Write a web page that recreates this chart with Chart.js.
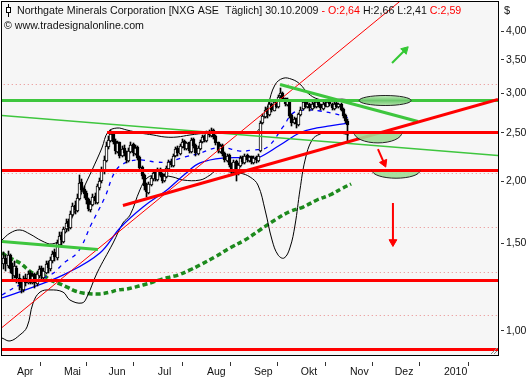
<!DOCTYPE html>
<html><head><meta charset="utf-8">
<script src="https://cdn.jsdelivr.net/npm/chart.js@4.4.0/dist/chart.umd.min.js"></script>
<style>html,body{margin:0;padding:0;background:#fff;}canvas{display:block;}</style>
</head><body>
<canvas id="c" width="531" height="380"></canvas>
<script>
// ---------- DATA ----------
// trading-day index: 0 = 1 Apr 2009; first candle is 23 Mar 2009 (index -6), last 30 Oct 2009 (index 148)
const firstDay = -6;
const opens = [1.36,1.40,1.35,1.42,1.34,1.29,1.34,1.28,1.25,1.21,1.28,1.25,1.31,1.25,1.30,1.24,1.29,1.34,1.28,1.31,1.37,1.33,1.38,1.44,1.40,1.49,1.56,1.51,1.60,1.66,1.61,1.71,1.79,1.74,1.84,1.99,1.93,1.89,1.84,1.75,1.79,1.87,1.81,1.94,2.00,2.09,2.19,2.34,2.41,2.49,2.41,2.29,2.39,2.24,2.33,2.29,2.19,2.29,2.37,2.27,2.34,2.23,2.13,2.06,1.96,1.89,1.96,2.02,2.09,2.01,2.11,2.07,2.00,2.04,2.11,2.19,2.14,2.24,2.33,2.27,2.34,2.41,2.32,2.39,2.29,2.43,2.36,2.27,2.32,2.39,2.46,2.41,2.51,2.46,2.53,2.46,2.39,2.29,2.36,2.28,2.19,2.26,2.16,2.09,2.19,2.07,2.14,2.23,2.17,2.26,2.19,2.24,2.17,2.23,2.19,2.30,2.61,2.69,2.79,2.71,2.86,2.77,2.89,2.81,2.96,3.01,2.93,2.84,2.89,2.71,2.61,2.67,2.59,2.71,2.79,2.89,2.81,2.86,2.79,2.87,2.81,2.89,2.85,2.79,2.87,2.82,2.89,2.86,2.79,2.87,2.81,2.86,2.79,2.71,2.64];
const highs = [1.44,1.42,1.45,1.43,1.37,1.38,1.35,1.30,1.27,1.29,1.30,1.32,1.32,1.31,1.31,1.32,1.35,1.35,1.34,1.38,1.38,1.41,1.45,1.46,1.52,1.58,1.58,1.62,1.68,1.68,1.74,1.81,1.82,1.88,2.06,2.02,1.95,1.91,1.85,1.82,1.88,1.89,1.97,2.03,2.13,2.24,2.39,2.46,2.53,2.51,2.43,2.41,2.40,2.35,2.36,2.30,2.33,2.40,2.38,2.36,2.35,2.24,2.14,2.07,1.98,1.99,2.05,2.10,2.10,2.12,2.12,2.08,2.07,2.14,2.20,2.21,2.27,2.34,2.35,2.37,2.43,2.42,2.40,2.40,2.44,2.44,2.37,2.35,2.42,2.47,2.47,2.52,2.53,2.55,2.54,2.47,2.40,2.37,2.37,2.29,2.27,2.27,2.17,2.20,2.20,2.17,2.24,2.24,2.27,2.27,2.25,2.25,2.24,2.24,2.27,2.64,2.73,2.82,2.80,2.88,2.87,2.91,2.90,2.98,3.07,3.02,2.94,2.93,2.90,2.72,2.69,2.68,2.74,2.81,2.90,2.90,2.88,2.87,2.88,2.88,2.90,2.90,2.86,2.88,2.88,2.90,2.90,2.87,2.88,2.88,2.87,2.87,2.80,2.72,2.66];
const lows = [1.33,1.32,1.34,1.31,1.27,1.28,1.25,1.21,1.19,1.20,1.23,1.24,1.24,1.24,1.22,1.23,1.28,1.27,1.27,1.30,1.31,1.32,1.37,1.38,1.39,1.48,1.49,1.50,1.58,1.59,1.60,1.70,1.72,1.73,1.83,1.90,1.85,1.80,1.74,1.73,1.78,1.80,1.80,1.92,1.98,2.07,2.18,2.32,2.39,2.37,2.27,2.28,2.22,2.23,2.25,2.17,2.18,2.28,2.25,2.26,2.20,2.10,2.02,1.92,1.86,1.88,1.95,2.00,2.00,2.00,2.04,1.98,1.99,2.03,2.10,2.13,2.13,2.23,2.25,2.26,2.33,2.31,2.31,2.28,2.28,2.33,2.25,2.26,2.31,2.38,2.40,2.40,2.45,2.45,2.43,2.36,2.28,2.28,2.25,2.18,2.18,2.13,2.07,2.08,2.00,2.06,2.13,2.16,2.16,2.18,2.18,2.16,2.16,2.17,2.18,2.29,2.60,2.68,2.68,2.70,2.75,2.76,2.80,2.80,2.94,2.89,2.83,2.83,2.68,2.58,2.60,2.56,2.58,2.70,2.78,2.80,2.80,2.77,2.78,2.80,2.80,2.82,2.78,2.78,2.81,2.81,2.83,2.78,2.78,2.80,2.80,2.76,2.68,2.62,2.41];
const closes = [1.40,1.36,1.42,1.33,1.30,1.35,1.28,1.24,1.22,1.27,1.25,1.30,1.26,1.29,1.25,1.30,1.33,1.29,1.32,1.36,1.34,1.39,1.43,1.41,1.50,1.55,1.52,1.60,1.65,1.62,1.72,1.78,1.75,1.85,1.98,1.92,1.88,1.83,1.76,1.80,1.86,1.82,1.95,2.00,2.10,2.20,2.35,2.42,2.48,2.40,2.30,2.38,2.25,2.32,2.28,2.20,2.30,2.36,2.28,2.33,2.22,2.12,2.05,1.95,1.90,1.97,2.03,2.08,2.02,2.10,2.06,2.00,2.05,2.12,2.18,2.15,2.25,2.32,2.28,2.35,2.40,2.33,2.38,2.30,2.42,2.35,2.28,2.33,2.40,2.45,2.42,2.50,2.47,2.52,2.45,2.38,2.30,2.35,2.27,2.20,2.25,2.15,2.10,2.18,2.08,2.15,2.22,2.18,2.25,2.20,2.23,2.18,2.22,2.20,2.25,2.62,2.70,2.78,2.72,2.85,2.78,2.88,2.82,2.95,3.00,2.92,2.85,2.90,2.70,2.62,2.66,2.60,2.72,2.78,2.88,2.82,2.85,2.80,2.86,2.82,2.88,2.84,2.80,2.86,2.83,2.88,2.85,2.80,2.86,2.82,2.85,2.78,2.70,2.64,2.59];

// month axis (trading-day index of first trading day of each month)
const monthTickDays = [0,21,41,63,85,106,127,149,169,191];
const monthLabels = ['Apr','Mai','Jun','Jul','Aug','Sep','Okt','Nov','Dez','2010'];
const priceTicks = [1.00,1.50,2.00,2.50,3.00,3.50,4.00];

// indicator lines: [day, price]
const maSlow = [[-6.7,1.165],[7.2,1.225],[22.4,1.307],[37.1,1.434],[46.1,1.61],[56.4,1.774],[67.1,1.919],[75.2,2.065],[81.9,2.174],[93.1,2.225],[104.3,2.225],[107.8,2.225],[117.7,2.362],[126.6,2.50],[134.2,2.556],[140,2.58],[148.5,2.614]];
const maFast = [[-6.7,1.181],[1.3,1.237],[14.8,1.295],[21.5,1.375],[27.3,1.441],[33.1,1.632],[39.4,1.858],[43.8,2.085],[48.3,2.174],[55,2.204],[61.7,2.184],[67.1,2.184],[75.2,2.235],[81.9,2.276],[90.8,2.337],[99.8,2.297],[105.6,2.308],[111.9,2.337],[119,2.568],[123.5,2.737],[128.9,2.777],[135.6,2.764],[144.5,2.713],[148.5,2.675]];
const bandUpper = [[-6.7,1.523],[-3.1,1.572],[1.3,1.595],[5.8,1.565],[11.2,1.516],[15.7,1.495],[20.1,1.537],[24.6,1.685],[29.1,1.901],[33.6,2.104],[38,2.33],[40.7,2.508],[44.7,2.555],[49.2,2.531],[55,2.497],[60.9,2.474],[66.2,2.451],[71.6,2.451],[77.4,2.474],[85,2.497],[92.2,2.508],[99.8,2.508],[105.6,2.497],[108.7,2.555],[112.3,2.842],[115.4,3.117],[119,3.215],[123,3.2],[126.6,3.13],[130.2,3.0],[134.7,2.92],[140,2.908],[145.4,2.92],[148.5,2.908]];
const bandLower = [[-6.7,0.968],[-3.1,0.955],[1.3,0.982],[4.5,1.019],[7.2,1.138],[10.3,1.197],[14.8,1.209],[20.6,1.197],[23.7,1.154],[29.1,1.138],[31.3,1.170],[35.8,1.307],[43,1.502],[47.4,1.647],[50.6,1.709],[55,1.919],[58.2,2.028],[62.6,2.056],[69.8,2.037],[74.3,2.009],[81.9,2.009],[86.4,2.056],[89.5,2.104],[95.3,2.085],[99.8,2.075],[104.3,2.037],[107.8,1.963],[111,1.749],[114.1,1.523],[116.8,1.421],[119.5,1.401],[122.1,1.468],[124.4,1.632],[126.6,1.919],[128.9,2.204],[132,2.417],[135.6,2.485],[140,2.508],[144.5,2.497],[148.5,2.474]];
const maDisplaced = [[-6.7,1.434],[-3.1,1.401],[1.3,1.369],[7.2,1.307],[11.6,1.295],[14.8,1.266],[18.3,1.248],[22.4,1.225],[26,1.203],[29.5,1.192],[33.6,1.187],[37.1,1.187],[41.6,1.197],[45.2,1.209],[49.2,1.214],[52.8,1.225],[56.4,1.237],[60.9,1.254],[64.9,1.271],[68.5,1.283],[72,1.295],[77.4,1.326],[81.9,1.357],[88.6,1.408],[95.3,1.468],[102,1.523],[108.7,1.595],[115.4,1.670],[122.1,1.737],[128,1.773],[134.2,1.832],[140,1.875],[145.9,1.937],[149.5,1.973]];

// drawn objects
const supportLevels = [2.10, 1.26, 0.92];          // full-width red lines
const resistanceLevel = [40.3, 2.50];             // red line starting at day
const greenLevel = 2.90;
const redTrend = [[47.4,1.790],[215.2,2.921]];
const redTrendThin = [[-6.7,1.014],[172.3,4.617]];
const greenTrendThin = [[-6.7,2.713],[215.2,2.255]];
const greenTrendEarly = [[-6.7,1.509],[36.2,1.454]];
const greenTrendTop = [[117.7,3.117],[179.4,2.638]];
const arrowUp = [[167.8,3.451],[173.6,3.665]];
const arrowDownSmall = [[161.5,2.318],[164.2,2.174]];
const arrowDown = [[168.2,1.806],[168.2,1.509]];
const dottedLevels = [3.117, 2.075, 1.61, 1.313, 1.072];
// zones: centre day, half width (days), top price, bottom price
const zoneDay = [164.7, 161.5, 169.6];
const zoneHalf = [11.6, 10.7, 10.7];
const zoneTop = [2.967, 2.50, 2.10];
const zoneBottom = [2.835, 2.385, 2.026];
const zoneFull = [true, false, false];

// ---------- CHART ----------
const RED = '#ff0000', GREEN = '#3ec63e', DKGREEN = '#1d8a1d', BLUE = '#0000ff';
const pts = a => a.map(p => ({x: p[0], y: p[1]}));
const xMin = -6.7, xMax = 215.2;
const hline = (v, x0 = xMin - 1) => [{x: x0, y: v}, {x: xMax + 1, y: v}];
const lineDs = (data, color, width, extra = {}) => Object.assign({type: 'line', data, borderColor: color, borderWidth: width, pointRadius: 0, fill: false, tension: 0}, extra);
const arrowDs = (pair, color, rot) => ({type: 'line', data: pts(pair), borderColor: color, borderWidth: 2, fill: false,
  pointRadius: [0, 4.5], pointStyle: 'triangle', pointRotation: [0, rot], pointBackgroundColor: color, pointBorderColor: color, pointBorderWidth: 1});

const wicks = [], bodies = [], bodyColors = [];
for (let k = 0; k < closes.length; k++) {
  const d = firstDay + k;
  wicks.push({x: d, y: [lows[k], highs[k]]});
  bodies.push({x: d, y: [Math.min(opens[k], closes[k]), Math.max(opens[k], closes[k])]});
  bodyColors.push(closes[k] >= opens[k] ? '#ffffff' : '#000000');
}

const datasets = [
  arrowDs(arrowUp, '#33c833', 45),
  arrowDs(arrowDownSmall, RED, 157),
  arrowDs(arrowDown, RED, 180),
  lineDs(pts(redTrend), RED, 3),
  ...supportLevels.map(v => lineDs(hline(v), RED, 3)),
  lineDs(hline(resistanceLevel[1], resistanceLevel[0]), RED, 3),
  lineDs(pts(greenTrendTop), GREEN, 3),
  lineDs(hline(greenLevel), GREEN, 3),
  lineDs(pts(greenTrendEarly), GREEN, 3),
  lineDs(pts(greenTrendThin), GREEN, 1.3),
  lineDs(pts(redTrendThin), RED, 1),
  {type: 'bar', data: bodies, backgroundColor: bodyColors, borderColor: '#000', borderWidth: 1, borderSkipped: false, barThickness: 3, grouped: false},
  {type: 'bar', data: wicks, backgroundColor: '#000', borderWidth: 0, barThickness: 1, grouped: false},
  lineDs(pts(maSlow), BLUE, 1.3, {tension: 0.4}),
  lineDs(pts(maFast), BLUE, 1.3, {tension: 0.4, borderDash: [4, 5]}),
  lineDs(pts(bandUpper), '#000', 1, {tension: 0.4}),
  lineDs(pts(bandLower), '#000', 1, {tension: 0.4}),
  lineDs(pts(maDisplaced), DKGREEN, 3.5, {tension: 0.4, borderDash: [5, 3]}),
  ...dottedLevels.map(v => lineDs(hline(v), '#e88a8a', 1, {borderDash: [1, 3]}))
];

const FONT = '"Liberation Sans", Arial, sans-serif';

// pixel snapping so candles and straight lines render crisp
const snapPlugin = {
  id: 'snap',
  afterDatasetsUpdate(chart) {
    chart.data.datasets.forEach((ds, i) => {
      const meta = chart.getDatasetMeta(i);
      if (ds.type === 'bar') {
        meta.data.forEach(el => {
          el.x = Math.floor(el.x) + 0.5;
          el.y = Math.round(el.y);
          el.base = Math.round(el.base);
          if (el.base === el.y) el.base += 1;
        });
      } else if (ds.data.length === 2 && ds.tension === 0) {
        meta.data.forEach(el => {
          el.y = Math.round(el.y - 0.5) + 0.5;
        });
      }
    });
  }
};

const framePlugin = {
  id: 'frame',
  beforeDraw(chart) {
    const {ctx, chartArea: a} = chart;
    ctx.save();
    ctx.fillStyle = '#ffffff';
    ctx.fillRect(0, 0, chart.width, chart.height);
    ctx.fillStyle = '#f6f6f6';
    ctx.fillRect(a.left, a.top, a.right - a.left, a.bottom - a.top);
    ctx.restore();
  },
  afterDatasetsDraw(chart) {
    const {ctx} = chart;
    const xs = chart.scales.x, ys = chart.scales.y;
    ctx.save();
    for (let k = 0; k < zoneDay.length; k++) {
      const cx = xs.getPixelForValue(zoneDay[k]);
      const rx = xs.getPixelForValue(zoneDay[k] + zoneHalf[k]) - cx;
      const yt = Math.round(ys.getPixelForValue(zoneTop[k]) - 0.5) + 0.5;
      const yb = ys.getPixelForValue(zoneBottom[k]);
      ctx.beginPath();
      if (zoneFull[k]) {
        const cy = (yt + yb) / 2, ry = (yb - yt) / 2;
        ctx.ellipse(cx, cy, rx, ry, 0, 0, Math.PI * 2);
        const g = ctx.createLinearGradient(0, yt, 0, yb);
        g.addColorStop(0, '#c8ecc0'); g.addColorStop(0.5, '#6cc86c'); g.addColorStop(1, '#b8e4b0');
        ctx.fillStyle = g; ctx.fill();
        ctx.strokeStyle = '#222'; ctx.lineWidth = 1; ctx.stroke();
      } else {
        ctx.ellipse(cx, yt, rx, yb - yt, 0, 0, Math.PI);
        ctx.fillStyle = 'rgba(160,220,150,0.9)'; ctx.fill();
        ctx.strokeStyle = '#222'; ctx.lineWidth = 1; ctx.stroke();
        ctx.beginPath(); ctx.moveTo(cx - rx, yt); ctx.lineTo(cx + rx, yt);
        ctx.strokeStyle = RED; ctx.lineWidth = 3; ctx.stroke();
      }
    }
    ctx.restore();
  },
  afterDraw(chart) {
    const {ctx, chartArea: a} = chart;
    ctx.save();
    ctx.strokeStyle = '#000'; ctx.lineWidth = 1;
    ctx.strokeRect(a.left - 0.5, a.top - 0.5, a.right - a.left + 1, a.bottom - a.top + 1);
    // small symbol
    ctx.beginPath(); ctx.moveTo(8.5, 4); ctx.lineTo(8.5, 17); ctx.stroke();
    ctx.fillStyle = '#fff'; ctx.fillRect(6.5, 7.5, 4, 5); ctx.strokeRect(6.5, 7.5, 4, 5);
    // title
    const parts = [['Northgate Minerals Corporation [NXG ASE  Täglich] 30.10.2009 ', '#111'], ['- O:2,64 ', RED], ['H:2,66 L:2,41 ', '#111'], ['C:2,59', RED]];
    ctx.font = '11px ' + FONT;
    const full = ctx.measureText(parts.map(p => p[0]).join('')).width;
    const size = Math.min(11, 11 * 445 / full);
    ctx.font = size.toFixed(2) + 'px ' + FONT; ctx.textBaseline = 'alphabetic'; ctx.textAlign = 'left';
    let x = 17;
    for (const [t, c] of parts) { ctx.fillStyle = c; ctx.fillText(t, x, 14); x += ctx.measureText(t).width; }
    ctx.fillStyle = '#111';
    ctx.fillText('\u00a9 www.tradesignalonline.com', 4, 29);
    ctx.font = '11px ' + FONT;
    ctx.fillText('$', 504, 14);
    // resize grip
    ctx.strokeStyle = '#888';
    ctx.beginPath(); ctx.moveTo(491, 354); ctx.lineTo(497, 348); ctx.moveTo(494, 354); ctx.lineTo(497, 351); ctx.stroke();
    ctx.restore();
  }
};

new Chart(document.getElementById('c'), {
  type: 'line',
  data: {datasets},
  options: {
    responsive: false, animation: false, devicePixelRatio: 1,
    layout: {autoPadding: false, padding: {left: 2, top: 2, right: 0, bottom: 0}},
    plugins: {legend: {display: false}, tooltip: {enabled: false}},
    events: [],
    scales: {
      x: {
        type: 'linear', min: xMin, max: xMax, bounds: 'data', offset: false,
        afterFit: s => { s.height = 25; s.paddingLeft = 0; s.paddingRight = 0; },
        afterBuildTicks: s => { s.ticks = monthTickDays.map(v => ({value: v})); },
        border: {display: false},
        grid: {drawOnChartArea: false, drawTicks: true, tickLength: 11, tickColor: '#333', tickBorderDash: [0, 7, 4, 40]},
        ticks: {autoSkip: false, maxRotation: 0, align: 'start', padding: 0, color: '#111', font: {family: FONT, size: 10.5},
          callback: v => { const i = monthTickDays.indexOf(v); return i >= 0 ? monthLabels[i] : ''; }}
      },
      y: {
        type: 'logarithmic', position: 'right', min: 0.895, max: 4.574, bounds: 'data',
        afterFit: s => { s.width = 33; s.paddingTop = 0; s.paddingBottom = 0; },
        afterBuildTicks: s => { s.ticks = priceTicks.map(v => ({value: v})); },
        border: {display: false},
        grid: {drawOnChartArea: false, drawTicks: true, tickLength: 6, tickColor: '#333', tickBorderDash: [0, 3, 3, 20]},
        ticks: {padding: 2, color: '#111', font: {family: FONT, size: 10.5},
          callback: v => Number(v).toFixed(2).replace('.', ',')}
      }
    }
  },
  plugins: [snapPlugin, framePlugin]
});
</script>
</body></html>
